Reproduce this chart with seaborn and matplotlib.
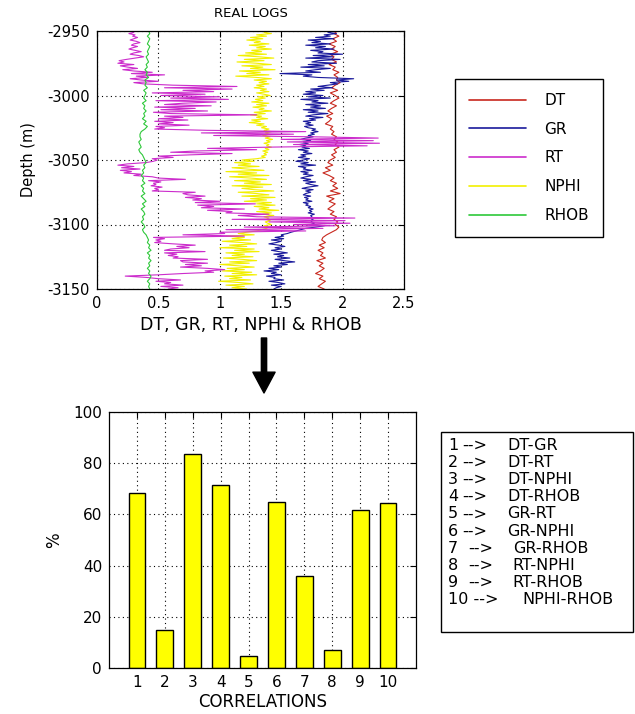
import numpy as np
import pandas as pd
import matplotlib
matplotlib.use("Agg")
import matplotlib.pyplot as plt
from matplotlib.lines import Line2D
from matplotlib.patches import Rectangle, FancyArrowPatch
import seaborn as sns

# ---------------- data ----------------
depth_top = -2950
depth_fine = depth_top - np.arange(201) * 1.0      # 1 m sampling
depth_coarse = depth_top - np.arange(101) * 2.0    # 2 m sampling

rt_vals = [
    0.28, 0.30, 0.26, 0.31, 0.29, 0.33, 0.30, 0.27, 0.32, 0.35, 0.30, 0.28, 0.33, 0.29, 0.26, 0.31,
    0.36, 0.30, 0.27, 0.34, 0.38, 0.31, 0.24,
    0.18, 0.22, 0.17, 0.30, 0.19, 0.25, 0.33, 0.21,
    0.30, 0.45, 0.28, 0.55,
    0.32, 0.41, 0.27, 0.36, 0.50, 0.30, 0.38,
    0.62, 1.14, 0.55, 1.10, 0.70, 0.95, 0.45, 0.88,
    0.52, 1.00, 0.60, 1.07, 0.48, 0.97, 0.70, 0.55, 0.93,
    0.47, 0.80, 0.52, 0.90, 0.46,
    0.60, 1.30, 0.55,
    0.70, 0.50, 0.74, 0.47, 0.62, 0.50,
    0.75, 0.48, 0.55, 0.47, 0.90,
    1.70, 0.85, 1.60, 0.95, 1.75,
    2.29, 1.50, 2.25, 1.55, 2.30, 1.60, 2.20,
    1.42, 0.90, 1.30,
    0.81, 0.60, 1.10, 0.76,
    0.50, 0.62, 0.45, 0.49,
    0.46, 0.40,
    0.25, 0.17, 0.30, 0.20, 0.35, 0.19, 0.28, 0.22, 0.36, 0.30,
    0.45, 0.50, 0.72, 0.42, 0.52,
    0.46, 0.48, 0.44, 0.53, 0.47, 0.50, 0.45,
    0.80, 0.70,
    0.74, 0.88, 0.72, 0.85, 0.78, 1.00, 0.80, 1.29, 0.82,
    0.95, 0.85, 1.20, 0.90, 1.10,
    1.05, 1.40, 1.15, 1.30,
    2.10, 1.10, 2.02, 1.40, 2.06, 1.60,
    1.94, 1.20, 1.84, 1.05, 1.70, 1.00,
    1.04, 0.70, 1.20,
    0.46, 0.55, 0.48, 0.52, 0.47,
    0.62, 0.80, 0.65, 0.75, 0.60,
    0.55, 0.88, 0.55, 0.65, 0.58, 0.66,
    0.62, 0.90, 0.68,
    0.70, 0.90, 0.72, 0.85, 0.68,
    0.90, 1.04, 0.88, 0.95, 0.70,
    0.50, 0.23, 0.40,
    0.50, 0.68, 0.48, 0.60,
    0.55, 0.70, 0.52, 0.66, 0.58,
]

gr_vals = [
    1.92, 1.88, 1.95, 1.85, 1.90, 1.78, 1.93, 1.72,
    1.82, 1.75, 1.90, 1.70, 1.86, 1.78, 1.93, 1.74, 1.84, 1.80,
    2.00, 1.76, 1.92, 1.70, 1.98, 1.80, 1.75, 1.95,
    1.72, 1.85, 1.66, 1.90, 1.78, 1.70, 1.82, 1.49,
    1.75, 1.68, 1.80, 2.09, 1.95,
    2.05, 1.90, 1.96, 1.88,
    1.80, 1.92, 1.74, 1.85, 1.70, 1.78,
    1.68, 1.84, 1.72, 1.90, 1.66, 1.80, 1.75, 1.88, 1.70, 1.82,
    1.74, 1.86, 1.68, 1.80, 1.72, 1.88, 1.76, 1.70, 1.84, 1.73,
    1.78, 1.68, 1.74, 1.70, 1.76, 1.69, 1.72, 1.78,
    1.75, 1.80, 1.74, 1.77, 1.72, 1.76,
    1.70, 1.66, 1.74, 1.68, 1.72, 1.65, 1.70, 1.67, 1.73,
    1.64, 1.72, 1.68, 1.75, 1.66, 1.70, 1.64, 1.73, 1.68,
    1.62, 1.72, 1.66, 1.78, 1.64, 1.70, 1.68,
    1.75, 1.66, 1.72, 1.68, 1.76, 1.70, 1.66, 1.74,
    1.68, 1.78, 1.70, 1.74, 1.80, 1.72, 1.67, 1.76, 1.70, 1.74,
    1.70, 1.68, 1.74, 1.69, 1.72, 1.70, 1.75, 1.68, 1.72, 1.70,
    1.74, 1.72, 1.76, 1.73, 1.75, 1.72, 1.77, 1.74,
    1.75, 1.73, 1.76, 1.74, 1.75, 1.77, 1.74,
    1.85, 1.78, 1.70, 1.66, 1.62, 1.58, 1.55, 1.50, 1.52,
    1.45, 1.52, 1.42, 1.50, 1.46, 1.40, 1.48, 1.53, 1.45,
    1.50, 1.42, 1.48, 1.55, 1.44, 1.52, 1.47, 1.57,
    1.45, 1.52, 1.61, 1.48, 1.55, 1.44, 1.50,
    1.40, 1.48, 1.36, 1.46, 1.42, 1.50, 1.38, 1.45,
    1.44, 1.52, 1.40, 1.48, 1.53, 1.42, 1.50, 1.46, 1.44,
]

nphi_vals = [
    1.40, 1.36, 1.42, 1.30, 1.38, 1.25, 1.35, 1.22, 1.33,
    1.28, 1.40, 1.24, 1.37, 1.30, 1.42, 1.26, 1.34, 1.21,
    1.38, 1.15, 1.32, 1.44, 1.20, 1.36, 1.14, 1.30, 1.42,
    1.18, 1.35, 1.25, 1.45, 1.16, 1.33, 1.22, 1.40, 1.13,
    1.30, 1.42, 1.28, 1.38, 1.32, 1.40, 1.30, 1.36, 1.28,
    1.38, 1.33, 1.40, 1.30, 1.36, 1.41, 1.31, 1.37, 1.29,
    1.35, 1.26, 1.40, 1.30, 1.38, 1.27, 1.36, 1.32, 1.42,
    1.28, 1.37, 1.25, 1.34, 1.30, 1.39, 1.26, 1.33, 1.24,
    1.36, 1.30, 1.38, 1.34, 1.40, 1.36, 1.42, 1.37, 1.40,
    1.35, 1.41, 1.37, 1.43, 1.38, 1.41, 1.36, 1.40, 1.38,
    1.42, 1.37, 1.40, 1.35, 1.39, 1.36, 1.38, 1.34, 1.37,
    1.30, 1.18, 1.28, 1.12, 1.25, 1.15, 1.32, 1.10, 1.22,
    1.36, 1.05, 1.30, 1.15, 1.40, 1.08, 1.25, 1.38, 1.12,
    1.33, 1.20, 1.42, 1.10, 1.35, 1.18, 1.28, 1.44, 1.15,
    1.30, 1.40, 1.18, 1.45, 1.25, 1.38, 1.20, 1.42, 1.30,
    1.45, 1.28, 1.40, 1.32, 1.48, 1.30, 1.42, 1.35, 1.44,
    1.36, 1.40, 1.38, 1.41, 1.37, 1.39, 1.42, 1.36, 1.40,
    1.38, 1.34, 1.30, 1.22, 1.15, 1.28, 1.05, 1.20, 1.10,
    1.25, 1.02, 1.18, 1.30, 1.08, 1.22, 1.00, 1.28, 1.12,
    1.32, 1.05, 1.20, 1.10, 1.27, 1.03, 1.18, 1.30, 1.08,
    1.24, 1.00, 1.15, 1.28, 1.06, 1.20, 1.02, 1.26, 1.10,
    1.30, 1.04, 1.18, 1.08, 1.25, 0.99, 1.16, 1.27, 1.05,
    1.20, 1.10, 1.22,
]

dt_vals = [
    1.96, 1.93, 1.97, 1.92, 1.95, 1.89, 1.94, 1.91, 1.96, 1.90, 1.93,
    1.91, 1.95, 1.89, 1.94, 1.92, 1.97, 1.93, 1.96, 1.95, 1.98,
    1.94, 1.91, 1.96, 1.90, 1.94, 1.97, 1.93, 1.90, 1.95, 1.91,
    1.88, 1.92, 1.87, 1.91, 1.89, 1.86, 1.92, 1.90, 1.93, 1.91,
    1.95, 1.93, 1.96, 1.94, 1.97, 1.93, 1.95, 1.91, 1.94, 1.90,
    1.88, 1.92, 1.86, 1.90, 1.84, 1.89, 1.93, 1.90, 1.95, 1.92,
    1.96, 1.90, 1.98, 1.87, 1.93, 1.89, 1.94, 1.91, 1.88, 1.93,
    1.90, 1.95, 1.93, 1.96, 1.94, 1.97, 1.95, 1.91, 1.87, 1.84,
    1.83, 1.86, 1.81, 1.85, 1.80, 1.84, 1.82, 1.86, 1.79, 1.84,
    1.81, 1.85, 1.82, 1.78, 1.84, 1.81, 1.86, 1.83, 1.80, 1.85,
]

rhob_vals = [
    0.42, 0.43, 0.41, 0.43, 0.42, 0.41, 0.43, 0.42, 0.41, 0.42, 0.40,
    0.41, 0.42, 0.40, 0.41, 0.39, 0.41, 0.40, 0.42, 0.39, 0.40,
    0.39, 0.41, 0.38, 0.40, 0.39, 0.38, 0.40, 0.37, 0.39, 0.38,
    0.40, 0.38, 0.39, 0.37, 0.40, 0.38, 0.41, 0.39, 0.36, 0.35,
    0.35, 0.36, 0.34, 0.35, 0.36, 0.34, 0.35, 0.37, 0.38, 0.39,
    0.40, 0.38, 0.39, 0.37, 0.38, 0.36, 0.38, 0.37, 0.39, 0.36,
    0.38, 0.37, 0.39, 0.36, 0.38, 0.40, 0.37, 0.39, 0.36, 0.38,
    0.39, 0.37, 0.38, 0.36, 0.38, 0.39, 0.37, 0.38, 0.40, 0.41,
    0.42, 0.41, 0.43, 0.42, 0.44, 0.41, 0.43, 0.42, 0.44, 0.42,
    0.43, 0.41, 0.43, 0.42, 0.44, 0.43, 0.41, 0.43, 0.42, 0.43,
]

log_names = ["DT", "GR", "RT", "NPHI", "RHOB"]
log_colors = ["#c8281e", "#1a1a9c", "#cc2ccc", "#f2f000", "#2ec83a"]

corr_ids = [1, 2, 3, 4, 5, 6, 7, 8, 9, 10]
corr_pct = [68.5, 14.8, 83.5, 71.4, 4.7, 64.8, 35.9, 7.0, 61.6, 64.3]
corr_pairs = ["DT-GR", "DT-RT", "DT-NPHI", "DT-RHOB", "GR-RT",
              "GR-NPHI", "GR-RHOB", "RT-NPHI", "RT-RHOB", "NPHI-RHOB"]

# ---------------- figure ----------------
sns.set_style("white")
plt.rcParams["font.family"] = ["DejaVu Sans"]
plt.rcParams["axes.unicode_minus"] = False
for key in ["text.color", "axes.labelcolor", "xtick.color", "ytick.color"]:
    plt.rcParams[key] = "black"

W, H = 635, 714
fig = plt.figure(figsize=(W / 100, H / 100), dpi=100)

def fx(px):
    return px / W

def fy(py):
    return 1 - py / H

# ---- top: logs ----
ax1 = fig.add_axes([fx(97), fy(289), fx(404) - fx(97), fy(31) - fy(289)])
series = {
    "DT": (dt_vals, depth_coarse),
    "GR": (gr_vals, depth_fine),
    "NPHI": (nphi_vals, depth_fine),
    "RT": (rt_vals, depth_fine),
    "RHOB": (rhob_vals, depth_coarse),
}
color_map = dict(zip(log_names, log_colors))
for name in ["DT", "GR", "NPHI", "RT", "RHOB"]:
    vals, dep = series[name]
    df = pd.DataFrame({"value": vals, "depth": dep})
    sns.lineplot(data=df, x="value", y="depth", sort=False, estimator=None,
                 color=color_map[name], lw=0.8, ax=ax1, legend=False)

ax1.set_xlim(0, 2.5)
ax1.set_ylim(-3150, -2950)
ax1.set_xticks([0, 0.5, 1, 1.5, 2, 2.5])
ax1.set_xticklabels(["0", "0.5", "1", "1.5", "2", "2.5"])
ax1.set_yticks([-3150, -3100, -3050, -3000, -2950])
ax1.grid(True, color="black", linestyle=(0, (1, 3)), linewidth=0.8)
ax1.set_axisbelow(True)
ax1.tick_params(direction="in", length=4, top=True, right=True, labelsize=10.5,
                pad=5, width=0.8)
for s in ax1.spines.values():
    s.set_color("black")
    s.set_linewidth(0.9)
ax1.set_title("REAL LOGS", fontsize=9.5, pad=10)
ax1.set_xlabel("DT, GR, RT, NPHI & RHOB", fontsize=12.5, labelpad=4)
ax1.set_ylabel("Depth (m)", fontsize=10.5, labelpad=8)

handles = [Line2D([0], [0], color=c, lw=1.2) for c in log_colors]
leg = fig.legend(handles, log_names, loc="center",
                 bbox_to_anchor=(fx(529), fy(158)), fontsize=11,
                 frameon=True, fancybox=False, edgecolor="black",
                 framealpha=1, handlelength=3.75, handletextpad=1.2,
                 labelspacing=0.9, borderpad=0.9)
leg.get_frame().set_linewidth(1.0)

# ---- arrow ----
arrow = FancyArrowPatch((fx(264), fy(338)), (fx(264), fy(393)),
                        transform=fig.transFigure,
                        arrowstyle="simple,head_length=1.5,head_width=1.6,tail_width=0.38",
                        mutation_scale=10, color="black", shrinkA=0, shrinkB=0)
fig.add_artist(arrow)

# ---- bottom: correlations ----
ax2 = fig.add_axes([fx(109), fy(668), fx(416) - fx(109), fy(412) - fy(668)])
bar_df = pd.DataFrame({"id": corr_ids, "pct": corr_pct})
sns.barplot(data=bar_df, x="id", y="pct", native_scale=True, width=0.6,
            color="#ffff00", saturation=1, edgecolor="black", linewidth=1.0,
            ax=ax2, errorbar=None)
ax2.set_xlim(0, 11)
ax2.set_ylim(0, 100)
ax2.set_xticks(corr_ids)
ax2.set_xticklabels([str(i) for i in corr_ids])
ax2.set_yticks([0, 20, 40, 60, 80, 100])
ax2.grid(True, color="black", linestyle=(0, (1, 3)), linewidth=0.8)
ax2.set_axisbelow(True)
ax2.tick_params(direction="in", length=4, top=True, right=True, labelsize=11,
                pad=5, width=0.8)
for s in ax2.spines.values():
    s.set_color("black")
    s.set_linewidth(0.9)
ax2.set_xlabel("CORRELATIONS", fontsize=12, labelpad=2)
ax2.set_ylabel("%", fontsize=12, labelpad=7)

# ---- correlation key box ----
fig.add_artist(Rectangle((fx(441), fy(632)), fx(633) - fx(441), fy(432) - fy(632),
                         transform=fig.transFigure, fill=False,
                         edgecolor="black", linewidth=1.0))
arrow_x = [462, 462, 462, 462, 462, 462, 468, 468, 468, 462]
label_x = [507, 507, 507, 507, 507, 507, 513, 512, 512, 522]
key_fs = 11.5
for i, (cid, pair) in enumerate(zip(corr_ids, corr_pairs)):
    yy = fy(445 + 17.2 * i)
    if cid == 10:
        fig.text(fx(448), yy, f"{cid} -->", fontsize=key_fs, va="center", ha="left")
    else:
        fig.text(fx(448), yy, str(cid), fontsize=key_fs, va="center", ha="left")
        fig.text(fx(arrow_x[i]), yy, "-->", fontsize=key_fs, va="center", ha="left")
    fig.text(fx(label_x[i]), yy, pair, fontsize=key_fs, va="center", ha="left")

fig.savefig("out.png", dpi=100)
